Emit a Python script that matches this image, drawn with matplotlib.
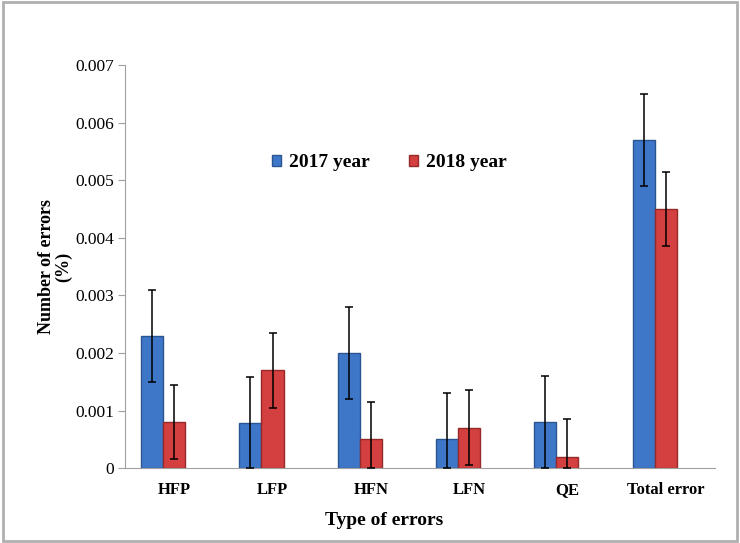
import numpy as np
import matplotlib
matplotlib.use('Agg')
import matplotlib.pyplot as plt
from matplotlib.patches import Rectangle

# Data
categories = ['HFP', 'LFP', 'HFN', 'LFN', 'QE', 'Total error']
y2017 = [0.0023, 0.00078, 0.0020, 0.0005, 0.0008, 0.0057]
y2018 = [0.0008, 0.0017, 0.0005, 0.0007, 0.0002, 0.0045]
err2017 = [0.0008, 0.0008, 0.0008, 0.0008, 0.0008, 0.0008]
err2018 = [0.00065, 0.00065, 0.00065, 0.00065, 0.00065, 0.00065]

plt.rcParams['font.family'] = ['Liberation Serif', 'DejaVu Serif']

fig = plt.figure(figsize=(7.4, 5.43), dpi=100)
ax = fig.add_axes([0.169, 0.138, 0.797, 0.742])

x = np.arange(len(categories))
w = 0.224

# lower error is clipped at zero like in the original
lo2017 = [min(v, e) for v, e in zip(y2017, err2017)]
lo2018 = [min(v, e) for v, e in zip(y2018, err2018)]

ax.bar(x - w, y2017, w, color='#3E77C8', edgecolor='#2B5590', linewidth=1,
       label='2017 year', zorder=2)
ax.bar(x, y2018, w, color='#D43F3F', edgecolor='#962A2A', linewidth=1,
       label='2018 year', zorder=2)
ax.errorbar(x - w, y2017, yerr=[lo2017, err2017], fmt='none', ecolor='black',
            elinewidth=1.1, capsize=2.8, capthick=1.1, zorder=3)
ax.errorbar(x, y2018, yerr=[lo2018, err2018], fmt='none', ecolor='black',
            elinewidth=1.1, capsize=2.8, capthick=1.1, zorder=3)

ax.set_xlim(-0.5, len(categories) - 0.5)
ax.set_ylim(0, 0.007)
ax.set_yticks(np.arange(0, 0.0071, 0.001))
ax.set_yticklabels(['0', '0.001', '0.002', '0.003', '0.004', '0.005', '0.006', '0.007'])
ax.set_xticks(x)
ax.set_xticklabels(categories, fontweight='bold', fontsize=12, va='baseline')
ax.tick_params(axis='x', length=0, pad=19)
ax.tick_params(axis='y', length=5, color='#A0A0A0', labelsize=12.5, pad=3)

for s in ['top', 'right']:
    ax.spines[s].set_visible(False)
for s in ['left', 'bottom']:
    ax.spines[s].set_color('#A0A0A0')

ax.set_xlabel('Type of errors', fontweight='bold', fontsize=14)
ax.xaxis.set_label_coords(0.44, -0.11)
ax.set_ylabel('Number of errors\n(%)', fontweight='bold', fontsize=13, labelpad=2,
              linespacing=1.0)

ax.legend(loc='upper center', bbox_to_anchor=(0.448, 0.822), ncol=2, frameon=False,
          prop={'weight': 'bold', 'size': 14}, handlelength=0.5, handleheight=0.5,
          handletextpad=0.4, columnspacing=2.0)

fig.patches.append(Rectangle((0.004, 0.004), 0.992, 0.992, transform=fig.transFigure,
                             fill=False, edgecolor='#B0B0B0', linewidth=2))

fig.savefig('out.png', dpi=100)
